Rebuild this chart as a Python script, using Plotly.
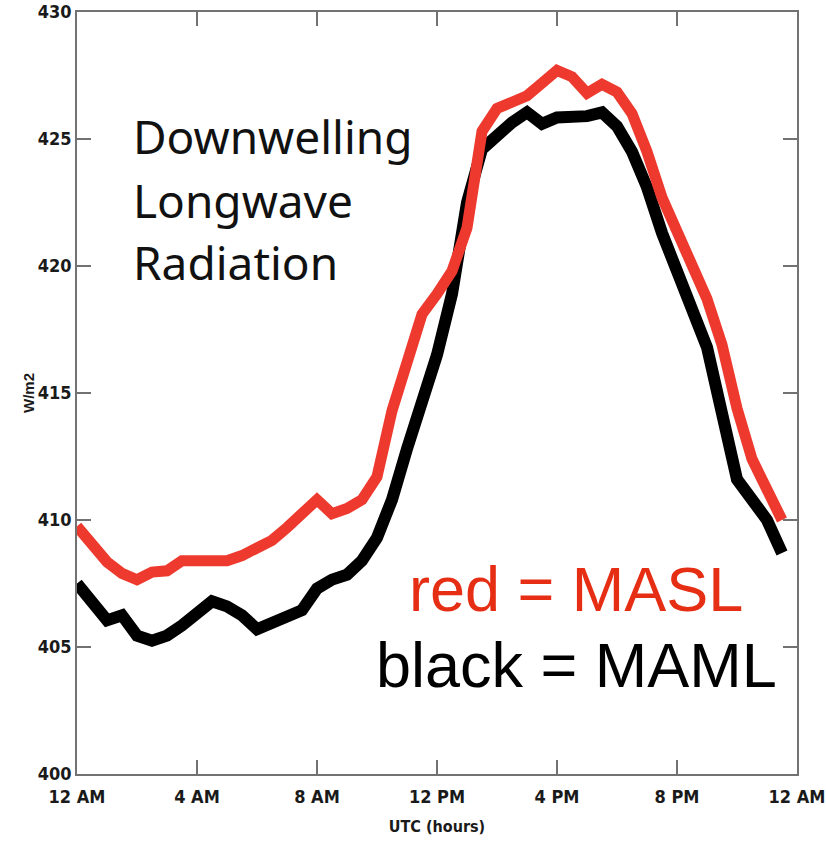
import plotly.graph_objects as go

# Half-hourly UTC time (hours after midnight)
hours = [i * 0.5 for i in range(48)]

# Downwelling longwave radiation (W/m2)
masl = [409.75, 409.0, 408.35, 407.9, 407.65, 407.95, 408.0, 408.4,
        408.4, 408.35, 408.4, 408.6, 408.85, 409.2, 409.7, 410.3,
        410.8, 410.25, 410.45, 410.8, 411.7, 414.3, 416.3, 418.1,
        418.9, 419.8, 421.5, 425.3, 426.2, 426.4, 426.7, 427.2,
        427.7, 427.45, 426.8, 427.15, 426.85, 426.0, 424.5, 422.7,
        421.4, 420.2, 418.7, 416.9, 414.4, 412.4, 411.1, 410.0]

maml = [407.5, 406.8, 406.05, 406.25, 405.45, 405.25, 405.45, 405.85,
        406.3, 406.8, 406.6, 406.25, 405.7, 405.95, 406.3, 406.45,
        407.3, 407.65, 407.85, 408.4, 409.3, 410.8, 412.8, 414.7,
        416.5, 418.9, 422.5, 424.6, 425.2, 425.65, 426.05, 425.6,
        425.85, 425.85, 425.9, 426.05, 425.5, 424.5, 423.1, 421.3,
        419.8, 418.5, 416.8, 414.2, 411.6, 410.8, 410.0, 408.7]

x_tickvals = [0, 4, 8, 12, 16, 20, 24]
x_ticktext = ["12 AM", "4 AM", "8 AM", "12 PM", "4 PM", "8 PM", "12 AM"]
y_tickvals = [400, 405, 410, 415, 420, 425, 430]

RED = "#ee3a2e"
TEXT_RED = "#e62e14"
AXIS_GRAY = "#727272"
NARROW = "DejaVu Sans Condensed, Liberation Sans, Arial, sans-serif"
TICK_FONT = dict(family=NARROW, size=18, color="#1a1a1a", weight="bold")

fig = go.Figure()
fig.add_trace(go.Scatter(x=hours, y=maml, mode="lines", name="MAML",
                         line=dict(color="#000000", width=12)))
fig.add_trace(go.Scatter(x=hours, y=masl, mode="lines", name="MASL",
                         line=dict(color=RED, width=11)))

axis_common = dict(showline=True, linecolor=AXIS_GRAY, linewidth=1.5,
                   mirror="ticks", ticks="inside", ticklen=14,
                   tickwidth=1.5, tickcolor=AXIS_GRAY, showgrid=False,
                   zeroline=False, tickfont=TICK_FONT, automargin=False,
                   ticklabeloverflow="allow")

fig.update_xaxes(range=[0, 24.0001], tickvals=x_tickvals, ticktext=x_ticktext,
                 ticklabelstandoff=6,
                 title=dict(text="UTC (hours)", standoff=14,
                            font=dict(family=NARROW, size=16, color="#1a1a1a",
                                      weight="bold")),
                 **axis_common)
fig.update_yaxes(range=[400, 430.0001], tickvals=y_tickvals,
                 title=dict(text="W/m2", standoff=0,
                            font=dict(family="Liberation Sans, Arial, sans-serif",
                                      size=15, color="#1a1a1a", weight="bold")),
                 **axis_common)

label_font = dict(family="Noto Sans, sans-serif", size=46, color="#111111")
for txt, yv in [("Downwelling", 425.1), ("Longwave", 422.6), ("Radiation", 420.15)]:
    fig.add_annotation(x=1.8, y=yv, xref="x", yref="y", text=txt,
                       showarrow=False, xanchor="left", yanchor="middle",
                       font=label_font)

fig.add_annotation(x=11.0, y=407.3, xref="x", yref="y", text="red = MASL",
                   showarrow=False, xanchor="left", yanchor="middle",
                   font=dict(family="Liberation Sans, Arial, sans-serif",
                             size=63, color=TEXT_RED))
fig.add_annotation(x=9.9, y=404.3, xref="x", yref="y", text="black = MAML",
                   showarrow=False, xanchor="left", yanchor="middle",
                   font=dict(family="Liberation Sans, Arial, sans-serif",
                             size=63, color="#000000"))

fig.update_layout(width=826, height=849, showlegend=False,
                  margin=dict(l=77, r=29, t=12, b=75),
                  paper_bgcolor="white", plot_bgcolor="white")

fig.write_html("out.html")
